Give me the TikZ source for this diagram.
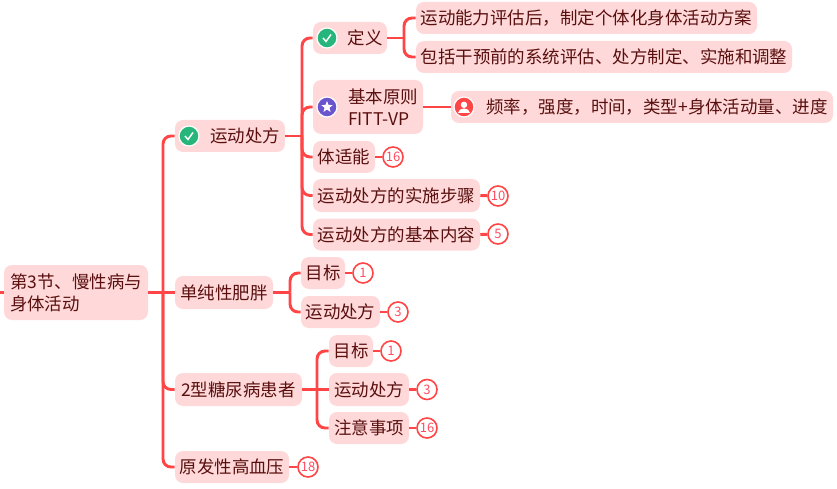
\documentclass[tikz,border=0pt]{standalone}
\usepackage{fontspec}
\setmainfont{Noto Sans CJK SC}
\usetikzlibrary{positioning, arrows.meta, shapes.geometric}

\definecolor{linkred}{HTML}{FF4545}
\definecolor{boxpink}{HTML}{FFD9D9}
\definecolor{inkbrown}{HTML}{5A0F0F}
\definecolor{badgeink}{HTML}{FF4D62}
\definecolor{okgreen}{HTML}{26B57A}
\definecolor{starpurple}{HTML}{6A55CF}
\newcommand{\iconpad}{\hspace*{22.5pt}}

\tikzset{
    x=0.75pt, y=-0.75pt,
    box/.style 2 args={rectangle, fill=boxpink, rounded corners=6pt, inner sep=0pt,
                minimum width=#1*0.75pt, minimum height=#2*0.75pt,
                align=left, text=inkbrown, font=\fontsize{13.1}{16.5}\selectfont},
    badge/.style={circle, draw=linkred, fill=white, line width=1.2pt, inner sep=0pt,
                minimum size=15pt, text=badgeink, font=\fontsize{9.8}{11}\selectfont},
    link/.style={draw=linkred, line width=2.2pt, rounded corners=6pt},
    disc/.style={circle, draw=white, line width=0.9pt, inner sep=0pt, minimum size=15pt},
    checkicon/.pic={
        \node[disc, fill=okgreen] (-disc) at (0,0) {};
        \draw[white, line width=1.1pt] (-4,0) -- (-1,3.5) -- (4,-3.5);
    },
    staricon/.pic={
        \node[disc, fill=starpurple] (-disc) at (0,0) {};
        \node[star, star points=5, star point ratio=2.3, fill=white, inner sep=0pt,
              minimum size=9pt] (-mark) at (0,0) {};
    },
    usericon/.pic={
        \node[disc, fill=linkred] (-disc) at (0,0) {};
        \fill[white] (0,-2.2) circle (3.2);
        \fill[white] (-6,6) .. controls (-6,0) and (6,0) .. (6,6) -- cycle;
    }
}

\begin{document}
\begin{tikzpicture}
  \useasboundingbox (0,0) rectangle (837,488);

  % Root and stub
  \node[box={144}{55}] (root) at (76,292.5) {第3节、慢性病与\\身体活动};
  \coordinate (stub) at (0,292.5);
  \coordinate (trunk) at (163,292.5);

  % First level
  \node[box={110}{32}] (rx) at (230,136) {\iconpad 运动处方};
  \node[box={98}{33}] (obese) at (224,292.5) {单纯性肥胖};
  \node[box={127}{33}] (diabetes) at (238.5,389.5) {2型糖尿病患者};
  \node[box={114}{32}] (hyper) at (232,467) {原发性高血压};

  % Under rx
  \node[box={74}{32}] (define) at (350,38) {\iconpad 定义};
  \node[box={110}{54}] (basic) at (368,107) {\iconpad 基本原则\\\iconpad FITT-VP};
  \node[box={62}{32}] (fitness) at (344,157) {体适能};
  \node[box={167}{33}] (steps) at (396.5,195.5) {运动处方的实施步骤};
  \node[box={167}{32}] (content) at (396.5,234.5) {运动处方的基本内容};
  \coordinate (rxbus) at (302,136);

  % Leaves of define and basic
  \node[box={341}{32}] (plan) at (586.5,18) {运动能力评估后，制定个体化身体活动方案};
  \node[box={376}{32}] (system) at (604,57) {包括干预前的系统评估、处方制定、实施和调整};
  \node[box={382}{32}] (freq) at (642,107) {\iconpad 频率，强度，时间，类型+身体活动量、进度};
  \coordinate (definebus) at (404,38);

  % Under obese
  \node[box={44}{32}] (goalA) at (323,273) {目标};
  \node[box={79}{32}] (rxA) at (340.5,312) {运动处方};
  \coordinate (obesebus) at (290,292.5);

  % Under diabetes
  \node[box={44}{32}] (goalB) at (351,351) {目标};
  \node[box={80}{33}] (rxB) at (369,389.5) {运动处方};
  \node[box={80}{32}] (noteB) at (369,428) {注意事项};
  \coordinate (diabetesbus) at (317,389.5);

  % Count badges
  \node[badge] (nFitness) at (393,157) {16};
  \node[badge] (nSteps) at (498,196) {10};
  \node[badge] (nContent) at (498,234) {5};
  \node[badge] (nGoalA) at (363,273) {1};
  \node[badge] (nRxA) at (398,312) {3};
  \node[badge] (nGoalB) at (391,351) {1};
  \node[badge] (nRxB) at (427,389.5) {3};
  \node[badge] (nNoteB) at (427,428) {16};
  \node[badge] (nHyper) at (308,467) {18};

  % Icons
  \pic (icRx) at (189,136) {checkicon};
  \pic (icDefine) at (327,38) {checkicon};
  \pic (icBasic) at (327,107) {staricon};
  \pic (icFreq) at (464,107) {usericon};

  % Edges from root
  \draw[link] (stub) -- (root.west);
  \draw[link] (root.east) -- (obese.west);
  \draw[link] (trunk) |- (rx.west);
  \draw[link] (trunk) |- (diabetes.west);
  \draw[link] (trunk) |- (hyper.west);

  % Edges from rx
  \draw[link] (rx.east) -- (rxbus);
  \draw[link] (rxbus) |- (define.west);
  \draw[link] (rxbus) |- (basic.west);
  \draw[link] (rxbus) |- (fitness.west);
  \draw[link] (rxbus) |- (steps.west);
  \draw[link] (rxbus) |- (content.west);

  % Edges from define and basic
  \draw[link] (define.east) -- (definebus);
  \draw[link] (definebus) |- (plan.west);
  \draw[link] (definebus) |- (system.west);
  \draw[link] (basic.east) -- (freq.west);

  % Edges from obese
  \draw[link] (obese.east) -- (obesebus);
  \draw[link] (obesebus) |- (goalA.west);
  \draw[link] (obesebus) |- (rxA.west);

  % Edges from diabetes
  \draw[link] (diabetes.east) -- (rxB.west);
  \draw[link] (diabetesbus) |- (goalB.west);
  \draw[link] (diabetesbus) |- (noteB.west);

  % Edges to badges
  \draw[link] (fitness.east) -- (nFitness);
  \draw[link] (steps.east) -- (nSteps);
  \draw[link] (content.east) -- (nContent);
  \draw[link] (goalA.east) -- (nGoalA);
  \draw[link] (rxA.east) -- (nRxA);
  \draw[link] (goalB.east) -- (nGoalB);
  \draw[link] (rxB.east) -- (nRxB);
  \draw[link] (noteB.east) -- (nNoteB);
  \draw[link] (hyper.east) -- (nHyper);
\end{tikzpicture}
\end{document}
